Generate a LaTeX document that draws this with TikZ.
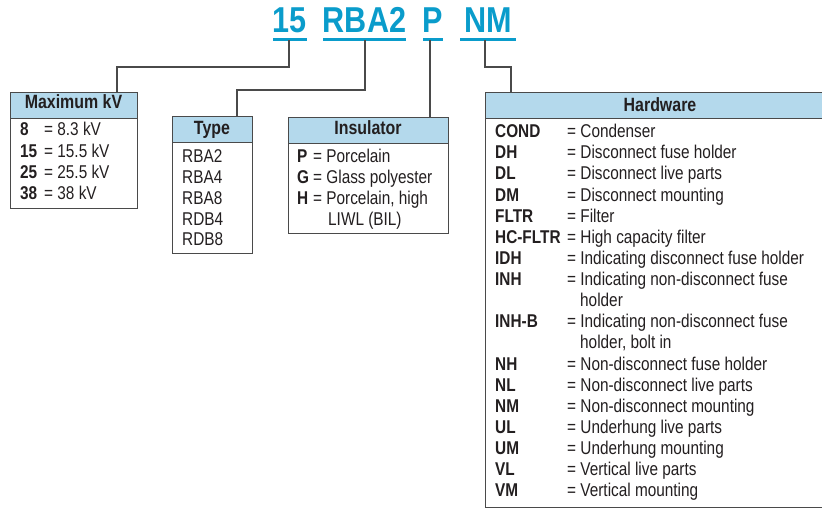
\documentclass[tikz,border=0pt]{standalone}
\usepackage{fontspec}
\setmainfont[FakeStretch=0.83]{Liberation Sans}
\newfontfamily\titlefont[FakeStretch=0.85]{Liberation Sans}
\definecolor{ttlblue}{HTML}{0A9CCB}
\definecolor{hdrfill}{HTML}{B4D9EC}
\definecolor{bordergray}{HTML}{4A4A4A}
\definecolor{txt}{HTML}{231F20}
\newcommand\rowtxt[4]{%
  \node[cell] (#1c) at (#2,#3) {\bfseries #4};}
\tikzset{
  cell/.style={anchor=base west, inner sep=0pt, text=txt, font=\fontsize{18.5}{21}\selectfont},
  hdr/.style={anchor=base, inner sep=0pt, text=txt, font=\fontsize{19.2}{21}\selectfont\bfseries},
  ttl/.style={anchor=base, inner sep=0pt, text=ttlblue, font=\fontsize{36}{40}\titlefont\bfseries},
  ul/.style={draw=ttlblue, line width=3pt},
  frame/.style={draw=bordergray, line width=1.4pt, fill=white, inner sep=0pt, anchor=north west},
  hfill/.style={draw=bordergray, line width=1.4pt, fill=hdrfill, inner sep=0pt, anchor=north west},
  conn/.style={draw=bordergray, line width=1.3pt}
}
\begin{document}
\begin{tikzpicture}[x=1pt,y=-1pt]
\useasboundingbox (0,0) rectangle (822,508);
\clip (0,0) rectangle (822,508);
% ---------- title codes ----------
\node[ttl] (t15) at (290,33) {15};
\node[ttl] (tRBA) at (364.5,33) {RBA2};
\node[ttl] (tP) at (433,33) {P};
\node[ttl] (tNM) at (488,33) {NM};
\coordinate (u15a) at (273,39.5); \coordinate (u15b) at (307,39.5);
\coordinate (uRa) at (323,39.5); \coordinate (uRb) at (406,39.5);
\coordinate (uPa) at (423,39.5); \coordinate (uPb) at (443,39.5);
\coordinate (uNa) at (460,39.5); \coordinate (uNb) at (516,39.5);
\draw[ul] (u15a) -- (u15b);
\draw[ul] (uRa) -- (uRb);
\draw[ul] (uPa) -- (uPb);
\draw[ul] (uNa) -- (uNb);
% ---------- boxes ----------
\node[frame, minimum width=127, minimum height=116] (bkv) at (10,92) {};
\node[hfill, minimum width=127, minimum height=26] (hkv) at (10,92) {};
\node[frame, minimum width=80, minimum height=137] (bty) at (172,116) {};
\node[hfill, minimum width=80, minimum height=26] (hty) at (172,116) {};
\node[frame, minimum width=160, minimum height=116] (bin) at (288,117) {};
\node[hfill, minimum width=160, minimum height=26] (hin) at (288,117) {};
\node[frame, minimum width=352, minimum height=415] (bhw) at (485,92) {};
\node[hfill, minimum width=352, minimum height=26] (hhw) at (485,92) {};
% ---------- connectors ----------
\coordinate (s15) at (289,40.5); \coordinate (k15) at (117,67);
\coordinate (sR) at (365,40.5); \coordinate (kR) at (237,90);
\coordinate (sP) at (430,40.5);
\coordinate (sN) at (485,40.5); \coordinate (kN) at (511,67);
\draw[conn] (s15) |- (k15) -- (k15 |- bkv.north);
\draw[conn] (sR) |- (kR) -- (kR |- bty.north);
\draw[conn] (sP) -- (sP |- bin.north);
\draw[conn] (sN) |- (kN) -- (kN |- bhw.north);
% ---------- headers ----------
\node[hdr] (lkv) at (73.5,108.3) {Maximum kV};
\node[hdr] (lty) at (212,134.3) {Type};
\node[hdr] (lin) at (368,135) {Insulator};
\node[hdr] (lhw) at (660,111.7) {Hardware};
% ---------- Maximum kV ----------
\rowtxt{k1}{20}{135.7}{8}  \node[cell] (k1d) at (44,135.7) {= 8.3 kV};
\rowtxt{k2}{20}{157.1}{15} \node[cell] (k2d) at (44,157.1) {= 15.5 kV};
\rowtxt{k3}{20}{178.5}{25} \node[cell] (k3d) at (44,178.5) {= 25.5 kV};
\rowtxt{k4}{20}{199.9}{38} \node[cell] (k4d) at (44,199.9) {= 38 kV};
% ---------- Type ----------
\node[cell] (ty1) at (182,162.3) {RBA2};
\node[cell] (ty2) at (182,183.2) {RBA4};
\node[cell] (ty3) at (182,204.1) {RBA8};
\node[cell] (ty4) at (182,225.0) {RDB4};
\node[cell] (ty5) at (182,245.9) {RDB8};
% ---------- Insulator ----------
\rowtxt{i1}{297}{162.3}{P} \node[cell] (i1d) at (313,162.3) {= Porcelain};
\rowtxt{i2}{297}{183.2}{G} \node[cell] (i2d) at (313,183.2) {= Glass polyester};
\rowtxt{i3}{297}{204.1}{H} \node[cell] (i3d) at (313,204.1) {= Porcelain, high};
\node[cell] (i4d) at (328,225.0) {LIWL (BIL)};
% ---------- Hardware ----------
\rowtxt{h1}{495}{137.7}{COND}    \node[cell] (h1d) at (567,137.7) {= Condenser};
\rowtxt{h2}{495}{158.8}{DH}      \node[cell] (h2d) at (567,158.8) {= Disconnect fuse holder};
\rowtxt{h3}{495}{179.9}{DL}      \node[cell] (h3d) at (567,179.9) {= Disconnect live parts};
\rowtxt{h4}{495}{201.1}{DM}      \node[cell] (h4d) at (567,201.1) {= Disconnect mounting};
\rowtxt{h5}{495}{222.2}{FLTR}    \node[cell] (h5d) at (567,222.2) {= Filter};
\rowtxt{h6}{495}{243.3}{HC-FLTR} \node[cell] (h6d) at (567,243.3) {= High capacity filter};
\rowtxt{h7}{495}{264.4}{IDH}     \node[cell] (h7d) at (567,264.4) {= Indicating disconnect fuse holder};
\rowtxt{h8}{495}{285.5}{INH}     \node[cell] (h8d) at (567,285.5) {= Indicating non-disconnect fuse};
\node[cell] (h8e) at (580,306.7) {holder};
\rowtxt{h9}{495}{327.8}{INH-B}   \node[cell] (h9d) at (567,327.8) {= Indicating non-disconnect fuse};
\node[cell] (h9e) at (580,348.9) {holder, bolt in};
\rowtxt{h10}{495}{370.0}{NH}     \node[cell] (h10d) at (567,370.0) {= Non-disconnect fuse holder};
\rowtxt{h11}{495}{391.1}{NL}     \node[cell] (h11d) at (567,391.1) {= Non-disconnect live parts};
\rowtxt{h12}{495}{412.3}{NM}     \node[cell] (h12d) at (567,412.3) {= Non-disconnect mounting};
\rowtxt{h13}{495}{433.4}{UL}     \node[cell] (h13d) at (567,433.4) {= Underhung live parts};
\rowtxt{h14}{495}{454.5}{UM}     \node[cell] (h14d) at (567,454.5) {= Underhung mounting};
\rowtxt{h15}{495}{475.6}{VL}     \node[cell] (h15d) at (567,475.6) {= Vertical live parts};
\rowtxt{h16}{495}{496.7}{VM}     \node[cell] (h16d) at (567,496.7) {= Vertical mounting};
\end{tikzpicture}
\end{document}
